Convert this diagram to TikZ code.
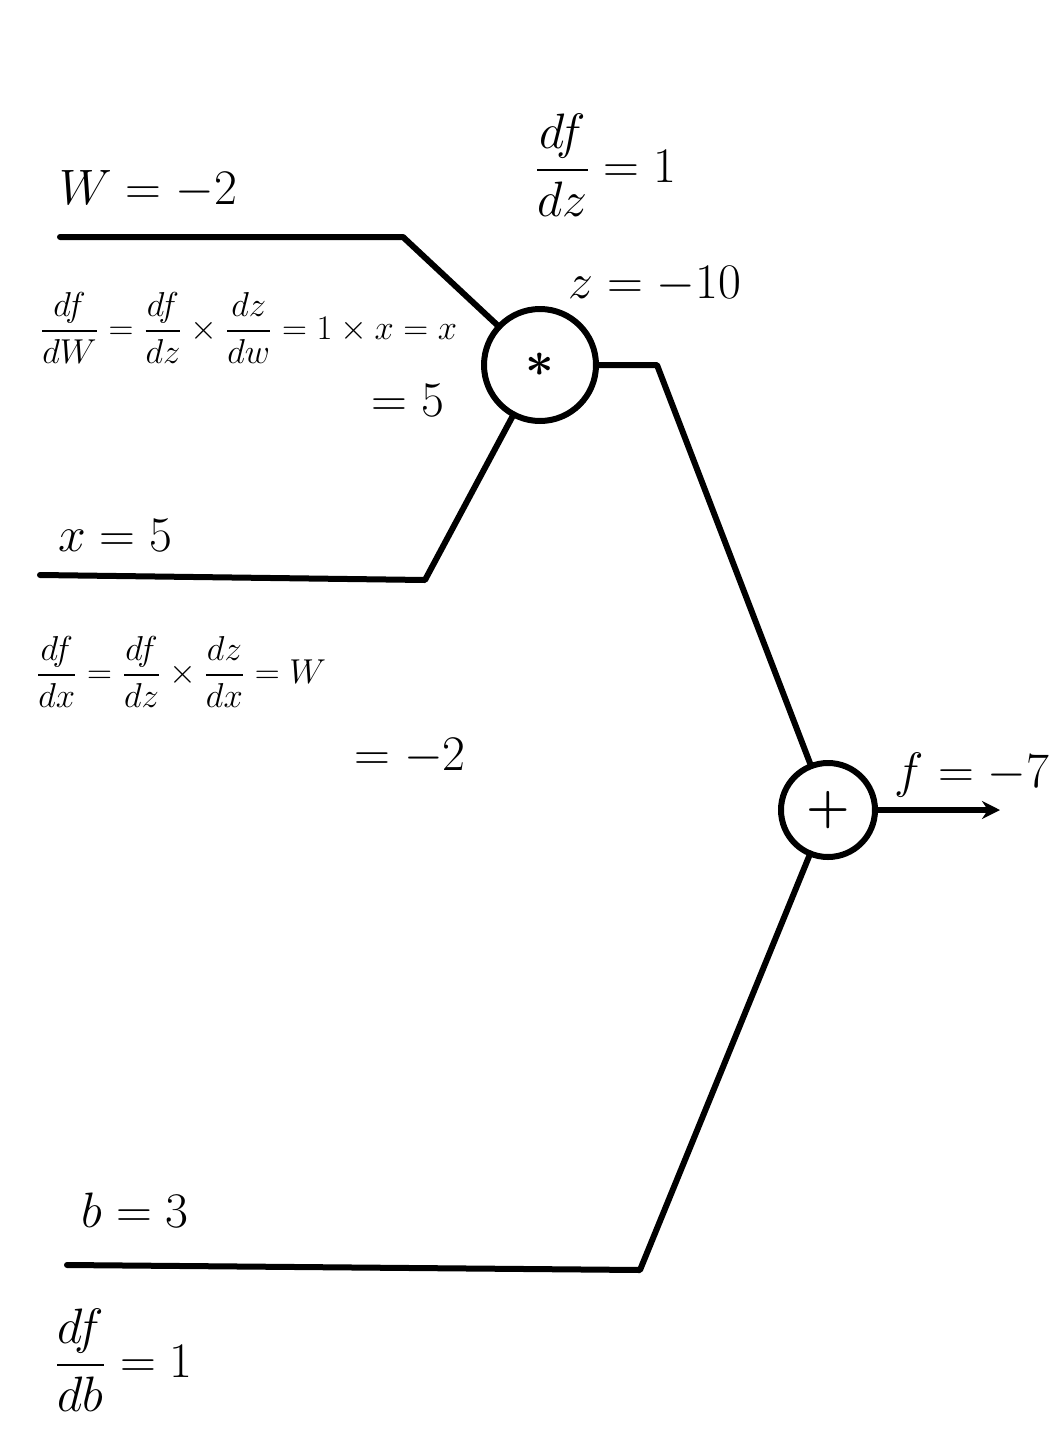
\documentclass[tikz,border=0pt]{standalone}
\usepackage{amsmath,amssymb}
\usetikzlibrary{arrows.meta}

\begin{document}
\begin{tikzpicture}[x=0.5pt, y=-0.5pt,
    every node/.style={inner sep=0pt, outer sep=0pt},
    gate/.style={draw=black, circle, line width=3pt, fill=white,
                 font=\fontsize{36}{36}\selectfont},
    wire/.style={draw=black, line width=3pt, line join=round, line cap=round},
    outw/.style={wire, -{Stealth[length=9pt,width=9pt]}},
    lbl/.style ={font=\fontsize{26}{30}\selectfont},
    eqn/.style ={font=\fontsize{18}{20}\selectfont, anchor=west},
    big/.style ={font=\fontsize{24}{28}\selectfont, anchor=west}]

\useasboundingbox (0,0) rectangle (1060,1440);

% ── gates ───────────────────────────────────────────────────────────────
\node[gate, minimum size=56pt] (mul) at (540,365) {$\boldsymbol{\ast}$};
\node[gate, minimum size=47pt] (add) at (828,810) {$\boldsymbol{+}$};

% ── wire bends ──────────────────────────────────────────────────────────
\coordinate (ws) at (60,237);   \coordinate (wb) at (403,237);
\coordinate (xs) at (40,575);   \coordinate (xb) at (425,580);
\coordinate (zb) at (657,365);
\coordinate (bs) at (67,1265);  \coordinate (bb) at (640,1270);
\coordinate (fe) at (1000,810);

\draw[wire] (ws) -- (wb) -- (mul);
\draw[wire] (xs) -- (xb) -- (mul);
\draw[wire] (mul.east) -- (zb) -- (add);
\draw[wire] (bs) -- (bb) -- (add);
\draw[outw] (add.east) -- (fe);

% ── values and gradients ────────────────────────────────────────────────
\node[lbl] (wv) at (148,190) {$W = -2$};
\node[eqn] (wg) at (40,328)
  {$\dfrac{df}{dW} = \dfrac{df}{dz}\times\dfrac{dz}{dw} = 1\times x = x$};
\node[lbl] (wg2) at (408,400) {$= 5$};

\node[lbl] (xv) at (115,535) {$x = 5$};
\node[eqn] (xg) at (36,672)
  {$\dfrac{df}{dx} = \dfrac{df}{dz}\times\dfrac{dz}{dx} = W$};
\node[lbl] (xg2) at (410,757) {$= -2$};

\node[lbl] (bv) at (135,1210) {$b = 3$};
\node[big] (bg) at (55,1360) {$\dfrac{df}{db} = 1$};

\node[big] (zg) at (535,165) {$\dfrac{df}{dz} = 1$};
\node[lbl] (zv) at (655,285) {$z = -10$};

\node[lbl] (fv) at (972,775) {$f = -7$};
\end{tikzpicture}
\end{document}
